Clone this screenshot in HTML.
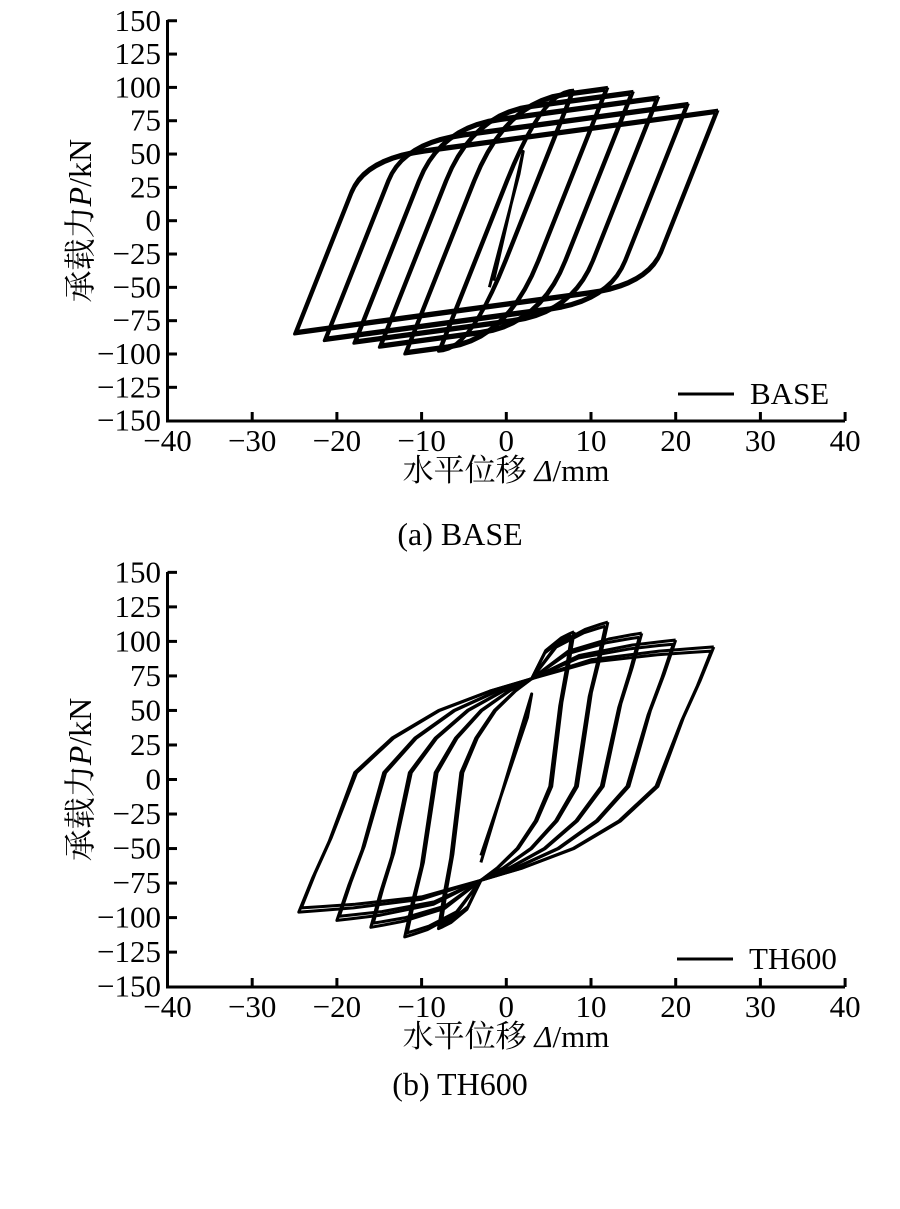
<!DOCTYPE html>
<html><head><meta charset="utf-8"><style>
html,body{margin:0;padding:0;background:#fff;}
svg{display:block;font-family:"Liberation Serif","Noto Serif CJK SC",serif;}
</style></head><body>
<svg id="s" width="900" height="1209" viewBox="0 0 900 1209" xmlns="http://www.w3.org/2000/svg">
<g id="g1"></g><g id="g2"></g>
</svg>
<script>
var NS="http://www.w3.org/2000/svg";
function el(p,t,a,txt){var e=document.createElementNS(NS,t);for(var k in a)e.setAttribute(k,a[k]);if(txt!=null)e.textContent=txt;p.appendChild(e);return e;}
function axes(g,y0,ky,top,bot,leg,cap,legx,legy){
  var X=function(x){return 506.3+x*8.47};
  el(g,'path',{d:'M167.5 '+top+' V'+bot+' H845',fill:'none',stroke:'#000','stroke-width':3});
  for(var v=-150;v<=150;v+=25){var y=y0-v*ky;
    if(v>-150)el(g,'line',{x1:167.5,x2:177,y1:y,y2:y,stroke:'#000','stroke-width':3});
    el(g,'text',{x:161,y:y+10,'text-anchor':'end','font-size':31},(v<0?'\u2212':'')+Math.abs(v));}
  for(var x=-30;x<=40;x+=10){el(g,'line',{x1:X(x),x2:X(x),y1:bot,y2:bot-9,stroke:'#000','stroke-width':3});}
  for(var x=-40;x<=40;x+=10){el(g,'text',{x:X(x),y:bot+30,'text-anchor':'middle','font-size':31},(x<0?'\u2212':'')+Math.abs(x));}
  var t=el(g,'text',{x:506,y:bot+60,'text-anchor':'middle','font-size':31},'水平位移 ');
  el(t,'tspan',{'font-style':'italic'},'Δ');el(t,'tspan',{},'/mm');
  var yt=el(g,'text',{x:0,y:0,'text-anchor':'middle','font-size':32,transform:'translate(91,'+y0+') rotate(-90)'},'承载力');
  el(yt,'tspan',{'font-style':'italic'},'P');el(yt,'tspan',{},'/kN');
  el(g,'line',{x1:legx,x2:legx+56,y1:legy,y2:legy,stroke:'#000','stroke-width':3});
  el(g,'text',{x:legx+72,y:legy+10,'font-size':31},leg);
  el(g,'text',{x:460,y:cap,'text-anchor':'middle','font-size':32},cap==545?'(a) BASE':'(b) TH600');
}
function poly(g,pts,X,Y){var d='';pts.forEach(function(p,i){d+=(i?'L':'M')+X(p[0]).toFixed(1)+' '+Y(p[1]).toFixed(1)});
  el(g,'path',{d:d,fill:'none',stroke:'#000','stroke-width':3,'stroke-linejoin':'round'});}
function qb(a,c,b,n){var r=[];for(var i=0;i<=n;i++){var t=i/n;r.push([(1-t)*(1-t)*a[0]+2*t*(1-t)*c[0]+t*t*b[0],(1-t)*(1-t)*a[1]+2*t*(1-t)*c[1]+t*t*b[1]]);}return r;}
(function(){
  var g=document.getElementById('g1');
  axes(g,220.7,1.333,20,421,'BASE',545,678,394);
  var X=function(x){return 506.3+x*8.47},Y=function(y){return 220.7-y*1.333};
  var k=16,s=0.86;
  function branch(A,Pp,Pm){
    var cx=(Pm-Pp+(k+s)*A)/(k-s), cy=Pm+s*(cx+A);
    var ys=Math.max(cy+25,-30); var xs=A+(ys-Pp)/k;
    var xe=Math.max(cx-7,-A+0.5), ye=Pm+s*(xe+A);
    var pts=[[A,Pp]].concat(qb([xs,ys],[cx,cy],[xe,ye],10));pts.push([-A,Pm]);return pts;}
  var L=[[8,98,-98],[12,100,-100],[15,97,-95],[18,93,-92],[21.5,88,-90],[25,83,-85]];
  poly(g,[[-1.5,-45],[2,52],[1.5,35],[-2,-50]],X,Y);
  L.forEach(function(l){
    for(var r=0;r<2;r++){var A=l[0]-r*0.3,Pp=l[1]-r*2,Pm=l[2]+r*2;
      var d=branch(A,Pp,Pm);
      var u=branch(A,-Pm,-Pp).map(function(p){return[-p[0],-p[1]]});
      poly(g,d.concat(u),X,Y);}
  });
})();
(function(){
  var g=document.getElementById('g2');
  axes(g,779.5,1.381,572,987,'TH600',1095,677,959);
  var X=function(x){return 506.3+x*8.47},Y=function(y){return 779.5-y*1.381};
  function branch(A,Pp,Pm){
    var px=-3,py=-73,pts=[];
    pts.push([A,Pp]);
    pts.push([px+(A-px)*0.94,Pp-25]);
    pts.push([px+(A-px)*0.87,Pp-51]);
    pts.push([px+(A-px)*0.76,Math.min(-5,Pp-85)]);
    pts.push([px+(A-px)*0.6,-30]);
    pts.push([px+(A-px)*0.4,-50]);
    pts.push([px+(A-px)*0.18,-64]);
    pts.push([px,py]);
    [[0.33,0.6],[0.7,0.87],[0.9,0.96],[1,1]].forEach(function(v){pts.push([px+(-A-px)*v[0],py+(Pm-py)*v[1]]);});
    return pts;}
  var L=[[8,107,-108],[12,114,-114],[16,106,-107],[20,101,-102],[24.5,96,-96]];
  poly(g,[[-3,-60],[3,62],[2.5,45],[-3,-55]],X,Y);
  L.forEach(function(l){
    for(var r=0;r<2;r++){var A=l[0]-r*0.3,Pp=l[1]-r*3,Pm=l[2]+r*3;
      var d=branch(A,Pp,Pm);
      var u=branch(A,-Pm,-Pp).map(function(p){return[-p[0],-p[1]]});
      poly(g,d.concat(u),X,Y);}
  });
})();
</script>
</body></html>
